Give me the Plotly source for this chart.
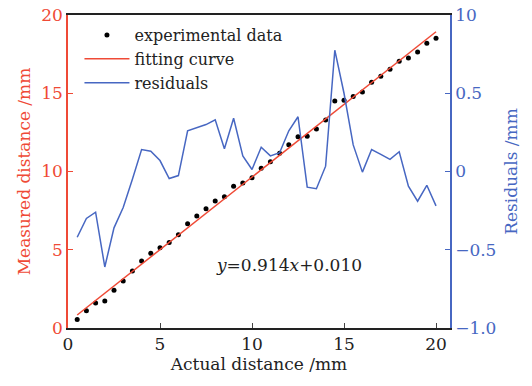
import plotly.graph_objects as go

# experimental data
x_data = [0.5, 1.0, 1.5, 2.0, 2.5, 3.0, 3.5, 4.0, 4.5, 5.0,
          5.5, 6.0, 6.5, 7.0, 7.5, 8.0, 8.5, 9.0, 9.5, 10.0,
          10.5, 11.0, 11.5, 12.0, 12.5, 13.0, 13.5, 14.0, 14.5, 15.0,
          15.5, 16.0, 16.5, 17.0, 17.5, 18.0, 18.5, 19.0, 19.5, 20.0]
measured = [0.55, 1.1, 1.6, 1.72, 2.41, 3.0, 3.64, 4.28, 4.77, 5.13,
            5.47, 5.96, 6.66, 7.16, 7.62, 8.12, 8.39, 9.05, 9.27, 9.6,
            10.2, 10.63, 11.16, 11.71, 12.22, 12.25, 12.72, 13.29, 14.5, 14.55,
            14.8, 15.08, 15.7, 16.08, 16.53, 17.04, 17.25, 17.64, 18.19, 18.51]
residuals = [-0.42, -0.30, -0.26, -0.61, -0.36, -0.23, -0.05, 0.14, 0.13, 0.07,
             -0.045, -0.026, 0.26, 0.28, 0.30, 0.33, 0.145, 0.34, 0.10, 0.013,
             0.155, 0.10, 0.12, 0.26, 0.35, -0.10, -0.11, 0.034, 0.775, 0.50,
             0.17, -0.004, 0.14, 0.11, 0.077, 0.126, -0.094, -0.19, -0.088, -0.22]
# fitting curve endpoints
fit_x = [0.5, 20.0]
fit_y = [0.83, 18.93]

x_ticks = [0, 5, 10, 15, 20]
y_ticks = [0, 5, 10, 15, 20]
y2_ticks = [-1.0, -0.5, 0, 0.5, 1.0]
y2_ticktext = ["\u22121.0", "\u22120.5", "0", "0.5", "10"]

RED = "#ef4a36"
BLUE = "#4767c2"
FONT = "DejaVu Serif"

fig = go.Figure()
fig.add_trace(go.Scatter(x=x_data, y=measured, mode="markers", name="experimental data",
                         marker=dict(color="black", size=5), yaxis="y"))
fig.add_trace(go.Scatter(x=fit_x, y=fit_y, mode="lines", name="fitting curve",
                         line=dict(color=RED, width=1.5), yaxis="y"))
fig.add_trace(go.Scatter(x=x_data, y=residuals, mode="lines", name="residuals",
                         line=dict(color=BLUE, width=1.5), yaxis="y2"))

fig.update_layout(
    width=532, height=386,
    margin=dict(l=68, r=82, t=15, b=58, autoexpand=False),
    paper_bgcolor="white", plot_bgcolor="white",
    font=dict(family=FONT, size=16, color="#222"),
    showlegend=True,
    legend=dict(x=0.03, y=0.99, xanchor="left", yanchor="top",
                bgcolor="rgba(0,0,0,0)", font=dict(size=16, color="#222"),
                tracegroupgap=0, itemwidth=45),
    xaxis=dict(range=[0, 20.76], tickvals=x_ticks, ticks="inside", ticklen=5,
               showline=True, linecolor="#222", linewidth=1.5, mirror=True,
               showgrid=False, zeroline=False,
               tickfont=dict(size=17, color="#222"),
               title=dict(text="Actual distance /mm", font=dict(size=17, color="#222"), standoff=4)),
    yaxis=dict(range=[0, 20], tickvals=y_ticks, ticks="inside", ticklen=5,
               showline=True, linecolor=RED, linewidth=1.5, tickcolor=RED,
               showgrid=False, zeroline=False,
               tickfont=dict(size=17, color=RED),
               title=dict(text="Measured distance /mm", font=dict(size=17, color=RED), standoff=6)),
    yaxis2=dict(range=[-1, 1], tickvals=y2_ticks, ticktext=y2_ticktext, overlaying="y", side="right",
                ticks="inside", ticklen=5, showline=True, linecolor=BLUE, linewidth=1.5, tickcolor=BLUE,
                showgrid=False, zeroline=False,
                tickfont=dict(size=17, color=BLUE),
                title=dict(text="Residuals /mm", font=dict(size=17, color=BLUE), standoff=10)),
    annotations=[dict(x=12.0, y=4.0, xref="x", yref="y",
                      text="<i>y</i>=0.914<i>x</i>+0.010", showarrow=False,
                      font=dict(size=17, color="#222"))],
)

fig.write_html("out.html", config={"displayModeBar": False},
               post_script="document.body.style.margin='0';document.body.style.padding='0';")
